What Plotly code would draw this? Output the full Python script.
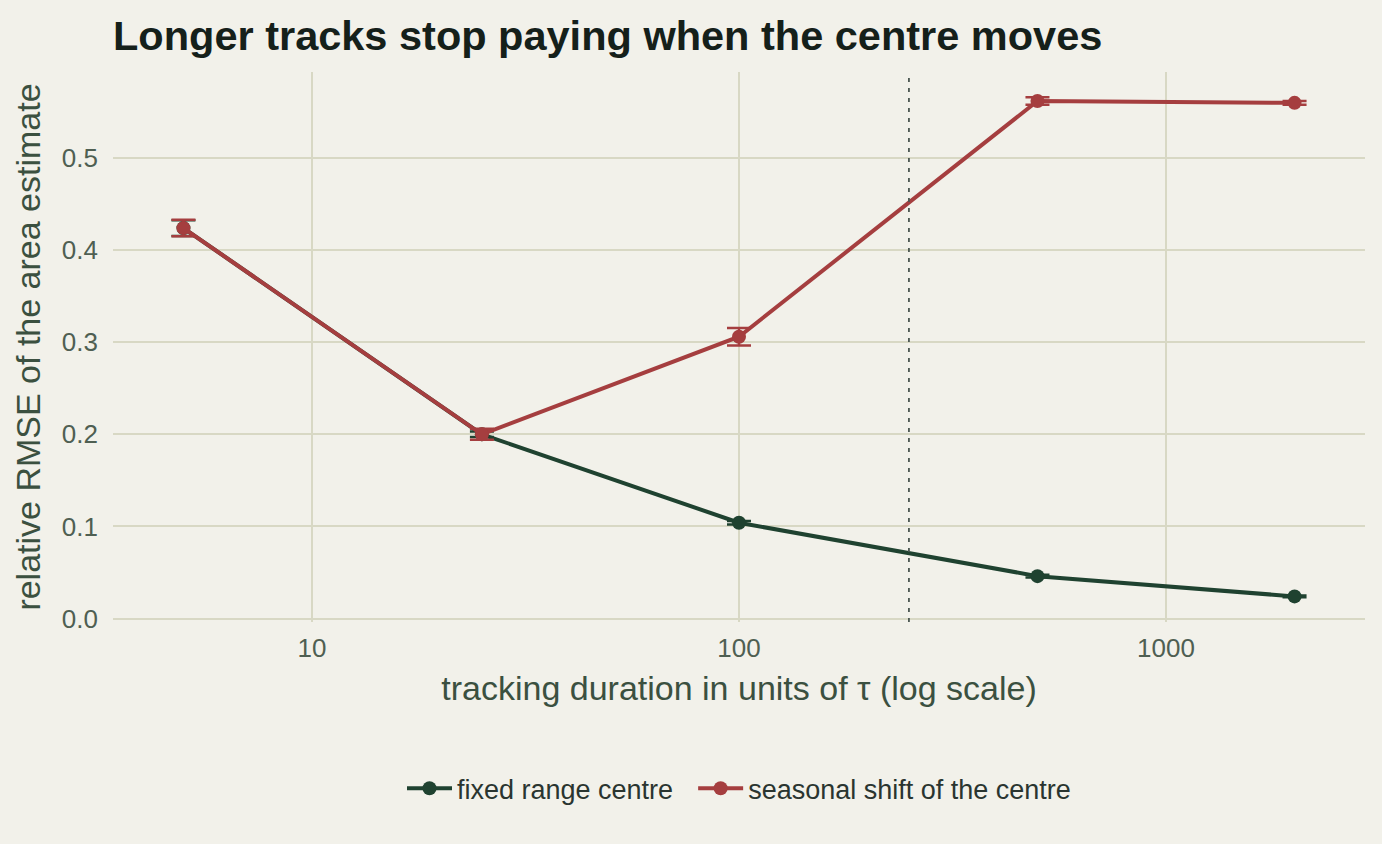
import plotly.graph_objects as go

durations = [5, 25, 100, 500, 2000]
fixed_rmse = [0.424, 0.200, 0.104, 0.046, 0.024]
fixed_err = [0.0085, 0.003, 0.002, 0.0015, 0.001]
shift_rmse = [0.424, 0.200, 0.306, 0.562, 0.560]
shift_err = [0.009, 0.006, 0.0095, 0.004, 0.002]
series_names = ["fixed range centre", "seasonal shift of the centre"]
ref_duration = 250

GREEN = "#1f4230"
RED = "#a53e3f"
BG = "#f2f1ea"
GRID = "#d8d8c4"
FONT = "Liberation Sans, Arial, sans-serif"

fig = go.Figure()
for name, ys, es, col in [
    (series_names[0] + "\u00a0\u00a0", fixed_rmse, fixed_err, GREEN),
    (series_names[1], shift_rmse, shift_err, RED),
]:
    fig.add_trace(go.Scatter(
        x=durations, y=ys, name=name, mode="lines+markers",
        line=dict(color=col, width=4),
        marker=dict(color=col, size=14),
        error_y=dict(type="data", array=es, visible=True, color=col,
                     thickness=2.5, width=12),
    ))

fig.add_shape(type="line", xref="x", yref="paper",
              x0=ref_duration, x1=ref_duration, y0=0, y1=1,
              line=dict(color="#4a5650", width=1.8, dash="4px,6px"))

fig.update_layout(
    width=1382, height=844,
    paper_bgcolor=BG, plot_bgcolor=BG,
    margin=dict(l=113, r=17, t=72, b=222),
    font=dict(family=FONT, color="#2a3a30"),
    title=dict(text="<b>Longer tracks stop paying when the centre moves</b>",
               x=113 / 1382, xanchor="left", y=1 - 35 / 844, yanchor="middle",
               font=dict(size=41.5, color="#15201a", family=FONT)),
    showlegend=True,
    legend=dict(orientation="h", x=0.5, xanchor="center", y=-0.303, yanchor="middle",
                itemwidth=45,
                font=dict(size=27, color="#2a3530"), bgcolor="rgba(0,0,0,0)"),
    xaxis=dict(type="log", range=[0.534, 3.466],
               tickvals=[10, 100, 1000], ticktext=["10", "100", "1000"],
               showgrid=True, gridcolor=GRID, gridwidth=1.5, zeroline=False,
               showline=False, ticks="", ticklabelstandoff=8,
               tickfont=dict(size=26, color="#4f5f52"),
               title=dict(text="tracking duration in units of τ (log scale)",
                          font=dict(size=34, color="#3b5040"), standoff=14)),
    yaxis=dict(range=[-0.0038, 0.5935],
               tickvals=[0, 0.1, 0.2, 0.3, 0.4, 0.5],
               ticktext=["0.0", "0.1", "0.2", "0.3", "0.4", "0.5"],
               showgrid=True, gridcolor=GRID, gridwidth=1.5, zeroline=False,
               showline=False, ticks="", ticklabelstandoff=14,
               tickfont=dict(size=26, color="#4f5f52"),
               title=dict(text="relative RMSE of the area estimate",
                          font=dict(size=34, color="#3b5040"), standoff=10)),
)

fig.write_html(
    "out.html",
    config={"displayModeBar": False},
    post_script="document.body.style.margin='0';document.body.style.background='%s';" % BG,
)
